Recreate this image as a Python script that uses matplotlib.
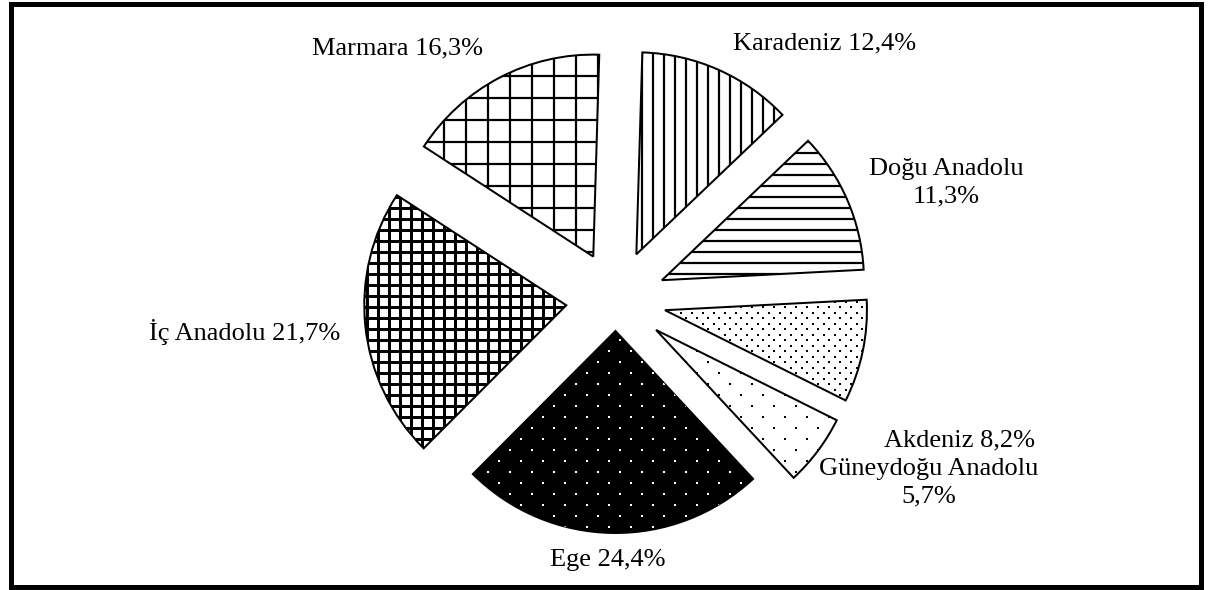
import numpy as np
import matplotlib
matplotlib.use("Agg")
import matplotlib.pyplot as plt
from matplotlib.collections import LineCollection
from matplotlib.patches import Rectangle

# ---- data ----
regions = ["Karadeniz", "Doğu Anadolu", "Akdeniz", "Güneydoğu Anadolu",
           "Ege", "İç Anadolu", "Marmara"]
shares = [12.4, 11.3, 8.2, 5.7, 24.4, 21.7, 16.3]
label_texts = ["Karadeniz 12,4%", "Doğu Anadolu\n11,3%", "Akdeniz 8,2%",
               "Güneydoğu Anadolu\n5,7%", "Ege 24,4%", "İç Anadolu 21,7%",
               "Marmara 16,3%"]

# ---- layout / style (pixel-based coordinates) ----
W, H = 1208, 590
DPI = 100
PX = 72.0 / DPI  # points per pixel

fig = plt.figure(figsize=(W / DPI, H / DPI), dpi=DPI)
ax = fig.add_axes([0, 0, 1, 1])

cx, cy = 616, H - 300
radius = 202
explode = [50, 50, 50, 50, 31, 50, 49]

wedges, _ = ax.pie(shares, startangle=88.3, counterclock=False,
                   explode=explode, radius=radius, center=(cx, cy),
                   wedgeprops=dict(facecolor="white", edgecolor="black",
                                   linewidth=2 * PX, zorder=1))
ax.set_xlim(0, W)
ax.set_ylim(0, H)
ax.set_aspect("equal")
ax.axis("off")

# hatch styles per wedge
hatch_styles = [
    dict(kind="v", sp=11, lw=2.2),
    dict(kind="h", sp=11, lw=2.2),
    dict(kind="dots", col=11, row=5.5, size=2, color="black"),
    dict(kind="dots", col=22, row=11, size=2.5, color="black"),
    dict(kind="dots", col=22, row=11, size=2, color="white", face="black"),
    dict(kind="grid", sp=11, lw=3),
    dict(kind="grid", sp=22, lw=2.2),
]

x0, x1 = cx - radius - 80, cx + radius + 80
y0, y1 = cy - radius - 80, cy + radius + 80

for w, st in zip(wedges, hatch_styles):
    if "face" in st:
        w.set_facecolor(st["face"])
    segs = []
    if st["kind"] in ("v", "grid"):
        for x in np.arange(x0, x1, st["sp"]):
            segs.append([(x, y0), (x, y1)])
    if st["kind"] in ("h", "grid"):
        for y in np.arange(y0, y1, st["sp"]):
            segs.append([(x0, y), (x1, y)])
    if segs:
        lc = LineCollection(segs, colors="black", linewidths=st["lw"] * PX,
                            zorder=2)
        ax.add_collection(lc)
        lc.set_clip_path(w)
    if st["kind"] == "dots":
        xs, ys = [], []
        for i, y in enumerate(np.arange(y0, y1, st["row"])):
            off = 0 if i % 2 == 0 else st["col"] / 2
            for x in np.arange(x0 + off, x1, st["col"]):
                xs.append(x)
                ys.append(y)
        sz = (st["size"] * PX) ** 2
        sc = ax.scatter(xs, ys, s=sz, marker="s", c=st["color"],
                        linewidths=0, zorder=2)
        sc.set_clip_path(w)

# labels
label_pos = [(825, 43), (946, 183), (959, 440), (929, 483),
             (608, 560), (245, 332), (397, 48)]
for txt, (lx, ly) in zip(label_texts, label_pos):
    ax.text(lx, H - ly, txt, ha="center", va="center", fontsize=19,
            family="Liberation Serif", linespacing=1.3, zorder=3)

# outer frame
frame = Rectangle((10.5, 3.5), 1190, 583, fill=False, edgecolor="black",
                  linewidth=5 * PX, zorder=4)
ax.add_patch(frame)

fig.savefig("out.png", dpi=DPI)
